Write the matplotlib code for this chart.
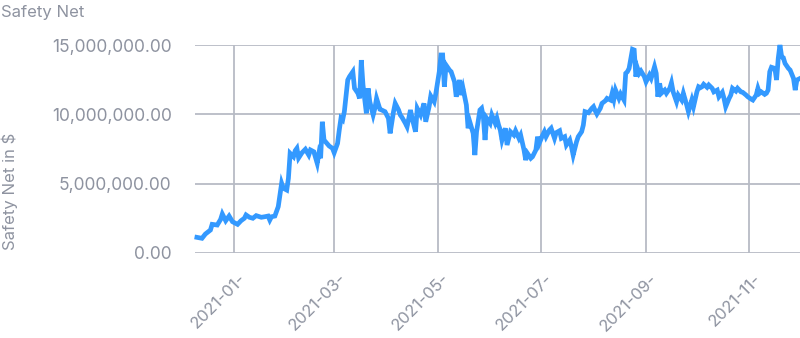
import matplotlib
matplotlib.use("Agg")
import matplotlib.pyplot as plt
import matplotlib.transforms as mtransforms
import pandas as pd

plt.rcParams['font.family'] = ['Inter', 'DejaVu Sans']

# safety net balance (millions of $)
dates = [
    "2020-12-10", "2020-12-13", "2020-12-15", "2020-12-18", "2020-12-19", "2020-12-22",
    "2020-12-24", "2020-12-25", "2020-12-27", "2020-12-29", "2020-12-31", "2021-01-03",
    "2021-01-05", "2021-01-07", "2021-01-08", "2021-01-10", "2021-01-12", "2021-01-14",
    "2021-01-17", "2021-01-19", "2021-01-21", "2021-01-22", "2021-01-23", "2021-01-25",
    "2021-01-27", "2021-01-29", "2021-01-30", "2021-02-01", "2021-02-02", "2021-02-03",
    "2021-02-05", "2021-02-06", "2021-02-07", "2021-02-08", "2021-02-10", "2021-02-12",
    "2021-02-14", "2021-02-15", "2021-02-17", "2021-02-19", "2021-02-20", "2021-02-21",
    "2021-02-22", "2021-02-23", "2021-02-26", "2021-02-28", "2021-03-01", "2021-03-03",
    "2021-03-04", "2021-03-05", "2021-03-06", "2021-03-07", "2021-03-09", "2021-03-10",
    "2021-03-12", "2021-03-13", "2021-03-15", "2021-03-16", "2021-03-17", "2021-03-18",
    "2021-03-20", "2021-03-21", "2021-03-22", "2021-03-24", "2021-03-25", "2021-03-26",
    "2021-03-28", "2021-03-29", "2021-03-31", "2021-04-02", "2021-04-03", "2021-04-05",
    "2021-04-06", "2021-04-08", "2021-04-09", "2021-04-10", "2021-04-12", "2021-04-13",
    "2021-04-15", "2021-04-16", "2021-04-18", "2021-04-19", "2021-04-21", "2021-04-23",
    "2021-04-24", "2021-04-26", "2021-04-27", "2021-04-29", "2021-04-30", "2021-05-02",
    "2021-05-03", "2021-05-04", "2021-05-05", "2021-05-06", "2021-05-08", "2021-05-09",
    "2021-05-11", "2021-05-12", "2021-05-14", "2021-05-15", "2021-05-16", "2021-05-18",
    "2021-05-19", "2021-05-20", "2021-05-22", "2021-05-23", "2021-05-24", "2021-05-26",
    "2021-05-27", "2021-05-28", "2021-05-29", "2021-05-30", "2021-06-01", "2021-06-02",
    "2021-06-04", "2021-06-05", "2021-06-06", "2021-06-07", "2021-06-08", "2021-06-10",
    "2021-06-11", "2021-06-13", "2021-06-15", "2021-06-16", "2021-06-18", "2021-06-19",
    "2021-06-21", "2021-06-22", "2021-06-23", "2021-06-25", "2021-06-26", "2021-06-28",
    "2021-06-29", "2021-06-30", "2021-07-02", "2021-07-03", "2021-07-04", "2021-07-06",
    "2021-07-07", "2021-07-09", "2021-07-10", "2021-07-12", "2021-07-13", "2021-07-15",
    "2021-07-16", "2021-07-18", "2021-07-19", "2021-07-20", "2021-07-22", "2021-07-23",
    "2021-07-25", "2021-07-26", "2021-07-27", "2021-07-29", "2021-07-31", "2021-08-01",
    "2021-08-02", "2021-08-03", "2021-08-05", "2021-08-06", "2021-08-08", "2021-08-09",
    "2021-08-11", "2021-08-12", "2021-08-13", "2021-08-14", "2021-08-16", "2021-08-17",
    "2021-08-19", "2021-08-20", "2021-08-21", "2021-08-22", "2021-08-24", "2021-08-25",
    "2021-08-26", "2021-08-27", "2021-08-28", "2021-08-29", "2021-08-31", "2021-09-01",
    "2021-09-03", "2021-09-04", "2021-09-06", "2021-09-07", "2021-09-08", "2021-09-09",
    "2021-09-10", "2021-09-12", "2021-09-13", "2021-09-15", "2021-09-16", "2021-09-17",
    "2021-09-19", "2021-09-20", "2021-09-22", "2021-09-23", "2021-09-25", "2021-09-26",
    "2021-09-28", "2021-09-29", "2021-10-01", "2021-10-02", "2021-10-03", "2021-10-04",
    "2021-10-05", "2021-10-07", "2021-10-08", "2021-10-10", "2021-10-11", "2021-10-13",
    "2021-10-14", "2021-10-16", "2021-10-17", "2021-10-18", "2021-10-20", "2021-10-21",
    "2021-10-22", "2021-10-24", "2021-10-25", "2021-10-27", "2021-10-28", "2021-10-30",
    "2021-10-31", "2021-11-02", "2021-11-03", "2021-11-05", "2021-11-06", "2021-11-07",
    "2021-11-08", "2021-11-10", "2021-11-11", "2021-11-12", "2021-11-13", "2021-11-14",
    "2021-11-16", "2021-11-17", "2021-11-18", "2021-11-19", "2021-11-20", "2021-11-21",
    "2021-11-22", "2021-11-24", "2021-11-25", "2021-11-27", "2021-11-28", "2021-11-29",
    "2021-12-01",
]
net_m = [
    1.11, 1.04, 1.35, 1.64, 2.05, 2.00,
    2.41, 2.80, 2.31, 2.65, 2.24, 2.05,
    2.31, 2.49, 2.73, 2.56, 2.49, 2.68,
    2.56, 2.60, 2.65, 2.36, 2.60, 2.65,
    3.33, 5.02, 4.66, 4.53, 5.38, 7.19,
    6.94, 7.38, 7.55, 6.85, 7.23, 7.48,
    7.06, 7.43, 7.30, 6.46, 7.19, 6.83,
    9.47, 8.15, 7.72, 7.55, 7.23, 7.91,
    8.87, 9.72, 9.60, 10.20, 12.49, 12.73,
    13.09, 11.89, 11.53, 11.16, 13.93, 12.13,
    10.08, 11.89, 10.92, 9.96, 10.44, 11.16,
    10.37, 10.32, 10.20, 9.72, 8.63, 10.20,
    10.80, 10.32, 9.96, 9.79, 9.36, 9.11,
    10.32, 9.72, 8.75, 10.44, 9.96, 10.80,
    9.47, 10.56, 11.33, 10.92, 11.53, 13.09,
    14.30, 14.30, 12.00, 13.57, 13.21, 13.09,
    12.36, 11.28, 12.49, 11.40, 11.89, 10.68,
    9.00, 9.47, 8.63, 7.06, 8.75, 10.32,
    10.44, 9.83, 8.15, 9.72, 9.36, 9.96,
    9.36, 9.72, 9.23, 8.87, 8.15, 9.00,
    7.79, 8.75, 8.51, 8.82, 8.27, 8.51,
    7.43, 6.70, 7.19, 6.83, 6.94, 7.43,
    8.39, 7.91, 8.51, 8.75, 8.39, 8.87,
    9.00, 8.27, 8.68, 8.82, 8.27, 8.39,
    7.79, 8.15, 7.66, 7.06, 8.03, 8.39,
    8.75, 9.23, 10.20, 10.12, 10.44, 10.56,
    10.27, 10.03, 10.44, 10.80, 10.99, 11.16,
    11.04, 11.53, 11.09, 11.76, 11.16, 11.48,
    11.04, 12.97, 13.09, 13.33, 14.71, 14.66,
    12.73, 13.33, 12.97, 13.14, 12.73, 12.36,
    12.85, 12.61, 13.45, 12.97, 11.28, 12.25,
    11.53, 11.76, 11.53, 11.89, 12.29, 11.63,
    10.92, 11.40, 11.04, 11.53, 10.68, 10.20,
    11.04, 10.56, 11.63, 12.00, 11.93, 12.00,
    12.18, 11.96, 12.13, 11.89, 11.63, 11.76,
    11.28, 11.60, 11.16, 10.56, 11.16, 11.40,
    11.89, 11.69, 11.89, 11.63, 11.60, 11.40,
    11.28, 11.11, 11.04, 11.40, 11.89, 11.53,
    11.63, 11.45, 11.53, 11.76, 13.09, 13.41,
    13.33, 12.49, 14.06, 15.02, 14.17, 14.10,
    13.69, 13.33, 13.21, 12.61, 11.76, 12.49,
    12.61,
]

y_ticks = [0, 5_000_000, 10_000_000, 15_000_000]
x_ticks = ["2021-01-01", "2021-03-01", "2021-05-01", "2021-07-01", "2021-09-01", "2021-11-01"]
x_labels = ["2021-01-", "2021-03-", "2021-05-", "2021-07-", "2021-09-", "2021-11-"]

text_col = "#8e93a0"
grid_col = "#b7bbc5"

fig = plt.figure(figsize=(8, 3.38), dpi=100)
ax = fig.add_axes([0.244, 0.2524, 0.756, 0.6136])

x = pd.to_datetime(dates)
y = [v * 1e6 for v in net_m]
ax.plot(x, y, color="#3399ff", linewidth=3.4, solid_joinstyle="miter", clip_on=False, zorder=3)

ax.set_xlim(pd.Timestamp("2020-12-09"), pd.Timestamp("2021-11-30 20:00"))
ax.set_ylim(0, 15_000_000)
ax.set_yticks(y_ticks)
ax.set_yticklabels([f"{v:,.2f}" for v in y_ticks])
ax.set_xticks(pd.to_datetime(x_ticks))
ax.set_xticklabels(x_labels, rotation=45, ha="right", va="top", rotation_mode="anchor")

ax.grid(True, color=grid_col, linewidth=1.3)
ax.set_axisbelow(True)
for s in ax.spines.values():
    s.set_visible(False)
ax.tick_params(axis="both", length=0, colors=text_col, labelsize=12.5)
ax.tick_params(axis="x", labelsize=12, pad=13)
ax.tick_params(axis="y", pad=17)

# nudge the rotated date labels a little to the right
shift = mtransforms.ScaledTranslation(4 / 100, 0, fig.dpi_scale_trans)
for lbl in ax.get_xticklabels():
    lbl.set_transform(lbl.get_transform() + shift)

fig.text(0.001, 1 - 16.5 / 338, "Safety Net", color=text_col, fontsize=12, va="baseline", ha="left")
fig.text(10 / 800, 1 - 191 / 338, "Safety Net in $", color=text_col, fontsize=12,
         rotation=90, va="center", ha="center")

fig.savefig("out.png", dpi=100)
